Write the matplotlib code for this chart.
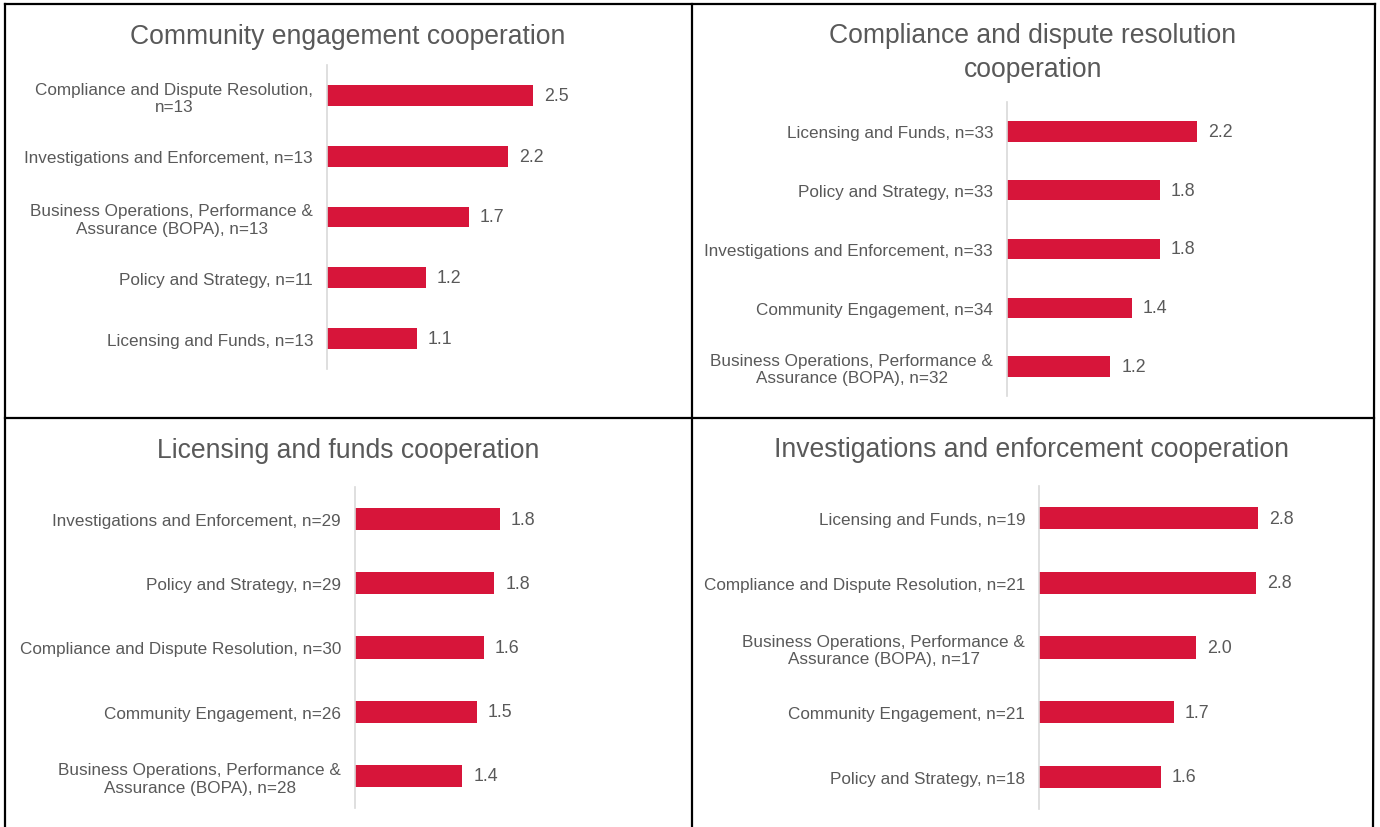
import matplotlib
matplotlib.use("Agg")
import matplotlib.pyplot as plt
from matplotlib.lines import Line2D

plt.rcParams['font.family'] = ['Liberation Sans', 'DejaVu Sans']

BAR_COLOR = '#D7153A'
TEXT_COLOR = '#595959'
W, H = 1380, 828

# ---- data (top to bottom in each panel) ----
bopa_13 = "Business Operations, Performance &\nAssurance (BOPA), n=13"
ce_labels = ["Compliance and Dispute Resolution,\nn=13",
             "Investigations and Enforcement, n=13",
             bopa_13,
             "Policy and Strategy, n=11",
             "Licensing and Funds, n=13"]
ce_values = [2.50, 2.19, 1.72, 1.20, 1.09]

cdr_labels = ["Licensing and Funds, n=33",
              "Policy and Strategy, n=33",
              "Investigations and Enforcement, n=33",
              "Community Engagement, n=34",
              "Business Operations, Performance &\nAssurance (BOPA), n=32"]
cdr_values = [2.19, 1.76, 1.76, 1.44, 1.19]

lf_labels = ["Investigations and Enforcement, n=29",
             "Policy and Strategy, n=29",
             "Compliance and Dispute Resolution, n=30",
             "Community Engagement, n=26",
             "Business Operations, Performance &\nAssurance (BOPA), n=28"]
lf_values = [1.83, 1.76, 1.63, 1.54, 1.36]

ie_labels = ["Licensing and Funds, n=19",
             "Compliance and Dispute Resolution, n=21",
             "Business Operations, Performance &\nAssurance (BOPA), n=17",
             "Community Engagement, n=21",
             "Policy and Strategy, n=18"]
ie_values = [2.81, 2.78, 2.01, 1.73, 1.56]

titles = ["Community engagement cooperation",
          "Compliance and dispute resolution\ncooperation",
          "Licensing and funds cooperation",
          "Investigations and enforcement cooperation"]

# ---- layout in pixels: axis x, axis top, axis bottom, px per unit, title x, title y
panels = [
    (ce_labels, ce_values, titles[0], 327, 66, 370, 82.5, 348, 37),
    (cdr_labels, cdr_values, titles[1], 1007, 103, 397, 86.8, 1033, 53),
    (lf_labels, lf_values, titles[2], 355, 488, 809, 79.0, 348, 451),
    (ie_labels, ie_values, titles[3], 1039, 487, 810, 78.0, 1032, 450),
]

fig = plt.figure(figsize=(W / 100, H / 100), dpi=100)

for labels, values, title, ax_x, top, bottom, scale, tx, ty in panels:
    width_px = 330
    ax = fig.add_axes([ax_x / W, 1 - bottom / H, width_px / W, (bottom - top) / H])
    pos = list(range(len(values)))
    bars = ax.barh(pos, values, height=0.345, color=BAR_COLOR)
    ax.bar_label(bars, labels=[f"{v:.1f}" for v in values], padding=8,
                 fontsize=12.8, color=TEXT_COLOR)
    ax.set_xlim(0, width_px / scale)
    ax.set_ylim(len(values) - 0.5, -0.5)
    ax.set_yticks(pos)
    ax.set_yticklabels(labels, fontsize=12.3, color=TEXT_COLOR)
    for lab in ax.get_yticklabels():
        lab.set_multialignment('center')
    ax.tick_params(axis='y', length=0, pad=10)
    ax.xaxis.set_visible(False)
    for side in ['top', 'right', 'bottom']:
        ax.spines[side].set_visible(False)
    ax.spines['left'].set_color('#D9D9D9')
    ax.spines['left'].set_linewidth(1.2)
    ax.patch.set_alpha(0)
    fig.text(tx / W, 1 - ty / H, title, ha='center', va='center',
             fontsize=19.1, color=TEXT_COLOR, linespacing=1.4)

# panel borders
def border(xs, ys):
    fig.add_artist(Line2D([x / W for x in xs], [1 - y / H for y in ys],
                          transform=fig.transFigure, color='black', lw=1.6))

border([5, 5], [5, 828])
border([5, 1375], [5, 5])
border([1375, 1373], [5, 828])
border([692, 692], [5, 828])
border([5, 1374], [419, 419])

fig.savefig("out.png", dpi=100)
